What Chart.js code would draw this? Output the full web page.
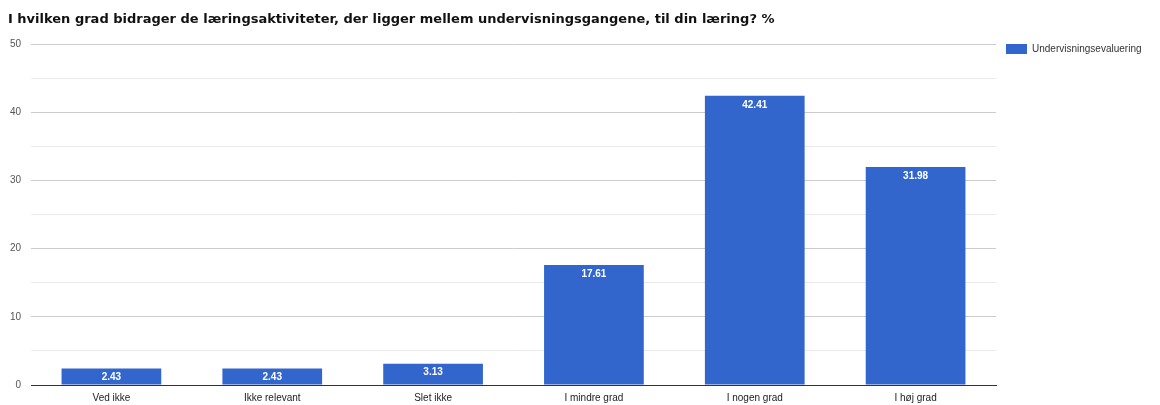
<!DOCTYPE html>
<html>
<head>
<meta charset="utf-8">
<script src="https://cdn.jsdelivr.net/npm/chart.js@4.4.1/dist/chart.umd.min.js"></script>
<style>
  html, body { margin: 0; padding: 0; background: #fff; }
  #wrap { position: relative; width: 1160px; height: 405px; }
</style>
</head>
<body>
<div id="wrap"><canvas id="chart" width="1160" height="405"></canvas></div>
<script>
const chartTitle = 'I hvilken grad bidrager de læringsaktiviteter, der ligger mellem undervisningsgangene, til din læring? %';
const seriesName = 'Undervisningsevaluering';
const categories = ['Ved ikke', 'Ikke relevant', 'Slet ikke', 'I mindre grad', 'I nogen grad', 'I høj grad'];
const values = [2.43, 2.43, 3.13, 17.61, 42.41, 31.98];
const barColor = '#3366cc';

// title + legend drawn by hand so they land where the reference has them
const decorPlugin = {
    id: 'decor',
    afterDraw(chart) {
        const ctx = chart.ctx;
        ctx.save();
        ctx.fillStyle = '#111';
        ctx.font = 'bold 13px "DejaVu Sans", Verdana, sans-serif';
        ctx.textBaseline = 'middle';
        ctx.textAlign = 'left';
        ctx.fillText(chartTitle, 8, 20);

        ctx.fillStyle = barColor;
        ctx.fillRect(1006, 44, 21, 10);
        ctx.fillStyle = '#333';
        ctx.font = '10px Arial, "Liberation Sans", sans-serif';
        ctx.fillText(seriesName, 1032, 49.5);
        ctx.restore();
    }
};

// value labels inside the top of each bar
const valueLabels = {
    id: 'valueLabels',
    afterDatasetsDraw(chart) {
        const ctx = chart.ctx;
        const meta = chart.getDatasetMeta(0);
        ctx.save();
        ctx.fillStyle = '#fff';
        ctx.font = 'bold 10px Arial, "Liberation Sans", sans-serif';
        ctx.textAlign = 'center';
        ctx.textBaseline = 'middle';
        meta.data.forEach(function (bar, i) {
            ctx.fillText(values[i].toFixed(2), bar.x, bar.y + 9);
        });
        ctx.restore();
    }
};

const ctx = document.getElementById('chart').getContext('2d');
const chart = new Chart(ctx, {
    type: 'bar',
    data: {
        labels: categories,
        datasets: [{
            label: seriesName,
            data: values,
            backgroundColor: barColor,
            borderWidth: 0,
            barPercentage: 0.62,
            categoryPercentage: 1
        }]
    },
    options: {
        responsive: false,
        animation: false,
        devicePixelRatio: 1,
        layout: {
            padding: { left: 0, top: 44, right: 164, bottom: 0 }
        },
        plugins: {
            legend: { display: false },
            title: { display: false },
            tooltip: { enabled: false }
        },
        scales: {
            x: {
                grid: { display: false, drawTicks: false },
                border: { display: true, color: '#333', width: 1 },
                ticks: {
                    color: '#222',
                    font: { family: 'Arial, "Liberation Sans", sans-serif', size: 10 },
                    padding: 7,
                    maxRotation: 0
                },
                afterFit: function (scale) { scale.height = 20; }
            },
            y: {
                min: 0,
                max: 50,
                border: { display: false },
                grid: {
                    drawTicks: false,
                    color: function (c) {
                        if (c.tick.value === 0) return 'rgba(0,0,0,0)';
                        return c.tick.value % 10 === 0 ? '#cccccc' : '#ebebeb';
                    }
                },
                ticks: {
                    stepSize: 5,
                    color: '#555',
                    font: { family: 'Arial, "Liberation Sans", sans-serif', size: 10 },
                    padding: 10,
                    callback: function (v) { return v % 10 === 0 ? v : ''; }
                },
                afterFit: function (scale) { scale.width = 31; }
            }
        }
    },
    plugins: [decorPlugin, valueLabels]
});
</script>
</body>
</html>
